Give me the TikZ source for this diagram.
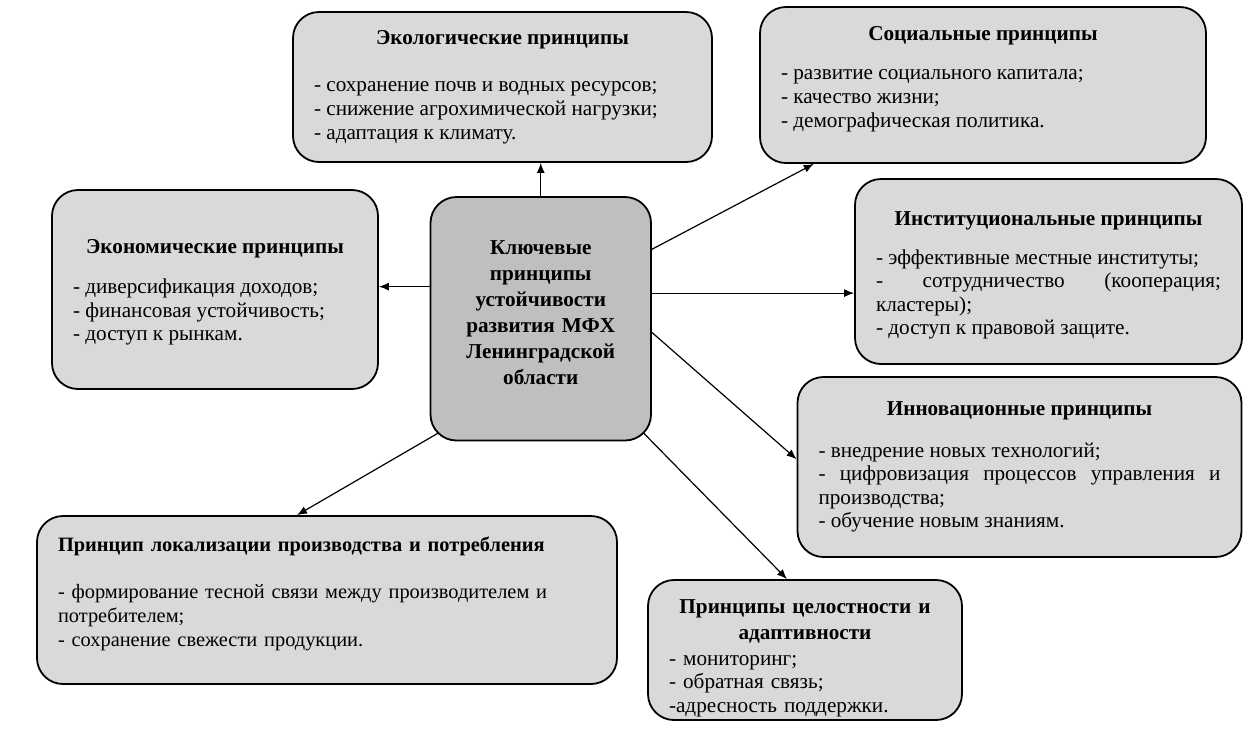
\documentclass[tikz,border=0pt]{standalone}
\usepackage{fontspec}
\setmainfont{Liberation Serif}
\usetikzlibrary{arrows.meta,calc}
\definecolor{boxgray}{HTML}{D9D9D9}
\definecolor{hubgray}{HTML}{BFBFBF}
\setlength{\parindent}{0pt}
\newcommand{\boxtitle}[1]{{\centering\bfseries #1\par}}
\tikzset{
  principle/.style={draw, line width=0.9pt, rounded corners=13pt, fill=boxgray,
    inner xsep=10.5pt, inner ysep=0pt, align=justify,
    font=\fontsize{10.6}{11.8}\selectfont},
  link/.style={-{Latex[length=5pt,width=4pt]}, line width=0.6pt}
}
\begin{document}
\begin{tikzpicture}[x=0.5pt, y=-0.5pt]
  \useasboundingbox (0,0) rectangle (1248,736);
  \node[principle, fill=hubgray, align=center, text width=89.25pt, minimum height=121.75pt,
    font=\fontsize{10.6}{13}\selectfont\bfseries] (hub) at (540.75,318.75)
    {Ключевые\\ принципы\\ устойчивости\\ развития МФХ\\ Ленинградской\\ области\par\kern6pt}; % middle
  \node[principle, text width=188.5pt, minimum height=75pt] (eco) at (502.5,87)
    {\boxtitle{Экологические принципы}\vspace{12pt}
     - сохранение почв и водных ресурсов;\par
     - снижение агрохимической нагрузки;\par
     - адаптация к климату.}; % top
  \node[principle, text width=202pt, minimum height=78pt] (soc) at (983,85)
    {\boxtitle{Социальные принципы}\vspace{8pt}
     - развитие социального капитала;\par
     - качество жизни;\par
     - демографическая политика.\par\kern6pt}; % top right
  \node[principle, text width=142pt, minimum height=99.5pt] (econ) at (215,289.5)
    {\boxtitle{Экономические принципы}\vspace{8pt}
     - диверсификация доходов;\par
     - финансовая устойчивость;\par
     - доступ к рынкам.\par\kern-3pt}; % left
  \node[principle, text width=172.5pt, minimum height=92.5pt] (inst) at (1048.5,271.5)
    {\boxtitle{Институциональные принципы}\vspace{7.5pt}
     - эффективные местные институты;\par
     - сотрудничество (кооперация;\linebreak кластеры);\par
     - доступ к правовой защите.\par\kern-4pt}; % right
  \node[principle, text width=201pt, minimum height=90pt] (innov) at (1019.5,467)
    {\boxtitle{Инновационные принципы}\vspace{9pt}
     - внедрение новых технологий;\par
     - цифровизация процессов управления и\linebreak производства;\par
     - обучение новым знаниям.}; % bottom right
  \node[principle, align=left, text width=269pt, minimum height=84pt,
    font=\fontsize{10.2}{11.8}\selectfont] (local) at (327,600)
    {{\bfseries Принцип локализации производства и потребления\par}\vspace{12pt}
     - формирование тесной связи между производителем и\newline потребителем;\par
     - сохранение свежести продукции.\par\kern6.5pt}; % bottom left
  \node[principle, align=left, text width=136pt, minimum height=70pt] (integ) at (805,650)
    {\boxtitle{Принципы целостности и\\[1.2pt] адаптивности}\vspace{1.2pt}
     - мониторинг;\par
     - обратная связь;\par
     -адресность поддержки.\par\kern-8pt}; % bottom
  \draw[link] (hub.north) -- (hub.north |- eco.south);
  \draw[link] (hub.32) -- (soc.205);
  \draw[link] (econ.1 -| hub.west) -- (econ.1);
  \draw[link] (hub.13) -- (hub.13 -| inst.west);
  \draw[link] (hub.-7) -- (innov.178);
  \draw[link] ($(hub.south west)+(8,-8)$) -- ($(local.north)+(-30,0)$);
  \draw[link] ($(hub.south east)+(-8,-8)$) -- ($(integ.north)+(-18,0)$);
\end{tikzpicture}
\end{document}
